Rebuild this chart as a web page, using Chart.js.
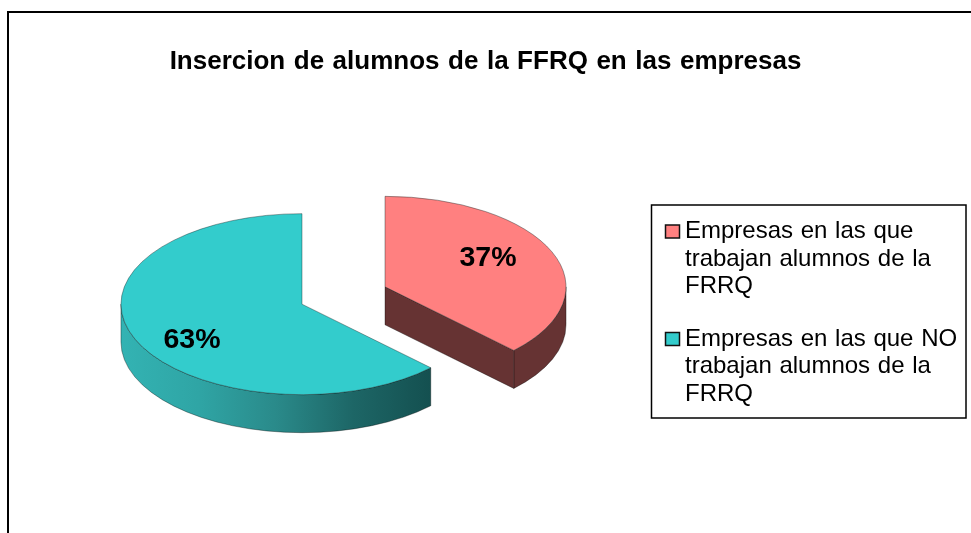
<!DOCTYPE html>
<html><head><meta charset="utf-8">
<style>html,body{margin:0;padding:0;background:#fff;overflow:hidden}#w{position:relative;width:971px;height:533px}</style>
<script src="https://cdn.jsdelivr.net/npm/chart.js@4"></script>
</head><body><div id="w"><canvas id="c" width="971" height="533"></canvas></div>
<script>
const titleText = "Insercion de alumnos de la FFRQ en las empresas";
const categories = ["Empresas en las que trabajan alumnos de la FRRQ", "Empresas en las que NO trabajan alumnos de la FRRQ"];
const legendLines = [["Empresas en las que","trabajan alumnos de la","FRRQ"],["Empresas en las que NO","trabajan alumnos de la","FRRQ"]];
const values = [37.4, 62.6];
const topColors = ["#FF8080", "#33CCCC"];
const wallStops = [
  [[0,"#663333"],[1,"#663333"]],
  [[0,"#33B3B3"],[0.25,"#2FA5A5"],[0.5,"#2A8A8A"],[0.75,"#1D6666"],[1,"#145050"]]
];
const labelShift = [[103,-28.5],[-110,36]];
const PIE = {x:343.5, y:295.5, r:181, k:0.5, depth:38, explode:45};
const FONT = "'Liberation Sans', Arial, sans-serif";

function place(arc){
  const mid=(arc.startAngle+arc.endAngle)/2;
  return {x:PIE.x+PIE.explode*Math.cos(mid), y:PIE.y+PIE.explode*PIE.k*Math.sin(mid)};
}
function drawWall(ctx,arc,stops){
  const c=place(arc), r=arc.outerRadius, ry=r*PIE.k, d=PIE.depth;
  const g=ctx.createLinearGradient(c.x-r,0,c.x+r*Math.cos(arc.startAngle),0);
  stops.forEach(s=>g.addColorStop(s[0],s[1]));
  ctx.fillStyle=g; ctx.strokeStyle="rgba(0,0,0,0.35)"; ctx.lineWidth=1;
  let a0=Math.max(arc.startAngle,0), a1=Math.min(arc.endAngle,Math.PI);
  if(a1>a0){
    const flat=stops.length===2&&stops[0][1]===stops[1][1];
    if(flat) ctx.fillStyle=stops[0][1];
    ctx.beginPath();
    ctx.ellipse(c.x,c.y,r,ry,0,a0,a1,false);
    ctx.ellipse(c.x,c.y+d,r,ry,0,a1,a0,true);
    ctx.closePath(); ctx.fill(); ctx.stroke();
  }
  if(Math.cos(arc.endAngle)>0.01){
    const ex=c.x+r*Math.cos(arc.endAngle), ey=c.y+ry*Math.sin(arc.endAngle);
    ctx.fillStyle=stops[0][1];
    ctx.beginPath();ctx.moveTo(c.x,c.y);ctx.lineTo(ex,ey);ctx.lineTo(ex,ey+d);ctx.lineTo(c.x,c.y+d);ctx.closePath();
    ctx.fill();ctx.stroke();
  }
}
const pie3d={
  id:"pie3d",
  beforeDraw(chart){ chart.ctx.wordSpacing="1.3px"; },
  beforeDatasetDraw(chart,args){
    const ctx=chart.ctx, arcs=chart.getDatasetMeta(args.index).data;
    ctx.wordSpacing="0px";
    arcs.forEach((arc,i)=>{
      ctx.save();drawWall(ctx,arc,wallStops[i]);
      const c=place(arc);
      ctx.translate(c.x,c.y);ctx.scale(1,PIE.k);ctx.translate(-arc.x,-arc.y);
      arc.draw(ctx,chart.chartArea);
      ctx.restore();
    });
    arcs.forEach((arc,i)=>{
      const c=place(arc);
      ctx.save();ctx.fillStyle="#000";ctx.font="bold 28.5px "+FONT;
      ctx.textAlign="center";ctx.textBaseline="middle";
      ctx.fillText(Math.round(values[i])+"%",c.x+labelShift[i][0],c.y+labelShift[i][1]);
      ctx.restore();
    });
    return false;
  },
  afterDraw(chart){
    const ctx=chart.ctx;
    ctx.save();
    ctx.strokeStyle="#000";ctx.lineWidth=2;
    ctx.beginPath();ctx.moveTo(8,533);ctx.lineTo(8,12);ctx.lineTo(971,12);ctx.stroke();
    ctx.lineWidth=1.5;ctx.fillStyle="#fff";
    ctx.strokeRect(651.5,205,314.5,213);
    ctx.textBaseline="middle";ctx.textAlign="left";ctx.font="24px "+FONT;ctx.wordSpacing="1px";
    const blocks=[231.5,339];
    legendLines.forEach((lines,i)=>{
      ctx.fillStyle=topColors[i];ctx.strokeStyle="#111";ctx.lineWidth=1.5;
      ctx.fillRect(665.5,blocks[i]-6.5,14,13);ctx.strokeRect(665.5,blocks[i]-6.5,14,13);
      ctx.fillStyle="#000";
      lines.forEach((t,j)=>ctx.fillText(t,685,blocks[i]+j*27.6));
    });
    ctx.restore();
  }
};
new Chart(document.getElementById("c"),{
  type:"pie",
  data:{labels:categories,datasets:[{data:values,backgroundColor:topColors,borderColor:"rgba(20,40,40,0.55)",borderWidth:1,radius:PIE.r,clip:false}]},
  options:{
    responsive:false,animation:false,
    layout:{padding:{top:46,bottom:0,left:0,right:0}},
    plugins:{
      legend:{display:false},tooltip:{enabled:false},
      title:{display:true,text:titleText,color:"#000",font:{family:FONT,size:26,weight:"bold"},padding:{top:0,bottom:0}}
    }
  },
  plugins:[pie3d]
});
</script></body></html>
